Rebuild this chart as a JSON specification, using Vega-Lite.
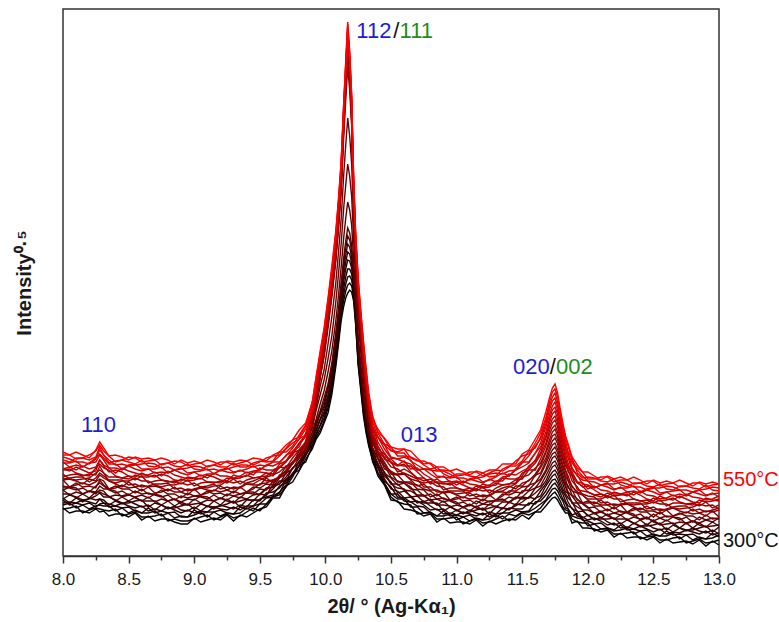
{
"$schema": "https://vega.github.io/schema/vega-lite/v6.json",
"width": 656, "height": 547,
"autosize": {"type": "none"},
"padding": {"left": 63, "top": 9, "right": 60, "bottom": 66},
"background": "white",
"config": {"view": {"stroke": "#333333", "strokeWidth": 1.5}, "font": "Liberation Sans"},
"resolve": {"axis": {"x": "independent"}, "scale": {"color": "independent"}},
"datasets": {
"xrd": [
{"x":8,"300":48,"310":47,"320":51,"330":56,"340":53,"350":58,"360":57,"370":62,"380":66,"390":66,"400":70,"410":69,"420":76,"430":76,"440":77,"450":82,"460":79,"470":86,"480":87,"490":87,"500":94,"510":93,"520":99,"530":96,"540":101,"550":104},
{"x":8.05,"300":43,"310":48,"320":53,"330":51,"340":54,"350":53,"360":61,"370":62,"380":61,"390":69,"400":68,"410":69,"420":69,"430":77,"440":78,"450":77,"460":81,"470":87,"480":85,"490":89,"500":89,"510":93,"520":97,"530":94,"540":101,"550":101},
{"x":8.1,"300":45,"310":50,"320":48,"330":53,"340":53,"350":58,"360":59,"370":58,"380":64,"390":68,"400":66,"410":73,"420":71,"430":75,"440":79,"450":76,"460":82,"470":83,"480":89,"490":86,"500":91,"510":95,"520":94,"530":98,"540":97,"550":104},
{"x":8.15,"300":45,"310":43,"320":51,"330":51,"340":56,"350":54,"360":56,"370":62,"380":62,"390":62,"400":68,"410":69,"420":73,"430":72,"440":79,"450":77,"460":80,"470":81,"480":86,"490":90,"500":89,"510":89,"520":94,"530":98,"540":98,"550":101},
{"x":8.2,"300":43,"310":46,"320":47,"330":53,"340":54,"350":58,"360":57,"370":58,"380":65,"390":65,"400":64,"410":70,"420":71,"430":77,"440":74,"450":78,"460":82,"470":80,"480":83,"490":87,"500":93,"510":93,"520":92,"530":96,"540":101,"550":98},
{"x":8.25,"300":47,"310":48,"320":50,"330":49,"340":52,"350":56,"360":60,"370":64,"380":62,"390":64,"400":70,"410":68,"420":74,"430":75,"440":78,"450":83,"460":81,"470":88,"480":85,"490":89,"500":94,"510":98,"520":97,"530":99,"540":105,"550":106},
{"x":8.28,"300":44,"310":47,"320":51,"330":52,"340":57,"350":57,"360":63,"370":64,"380":66,"390":70,"400":73,"410":76,"420":77,"430":81,"440":83,"450":86,"460":90,"470":92,"480":96,"490":96,"500":101,"510":102,"520":106,"530":109,"540":111,"550":114},
{"x":8.31,"300":45,"310":46,"320":50,"330":53,"340":53,"350":56,"360":59,"370":62,"380":65,"390":67,"400":70,"410":71,"420":75,"430":78,"440":80,"450":83,"460":83,"470":88,"480":90,"490":91,"500":96,"510":98,"520":101,"530":101,"540":105,"550":108},
{"x":8.35,"300":40,"310":45,"320":50,"330":49,"340":52,"350":51,"360":59,"370":60,"380":59,"390":67,"400":66,"410":67,"420":67,"430":75,"440":76,"450":75,"460":79,"470":86,"480":84,"490":88,"500":88,"510":92,"520":96,"530":93,"540":100,"550":100},
{"x":8.4,"300":42,"310":47,"320":45,"330":50,"340":50,"350":55,"360":56,"370":55,"380":61,"390":65,"400":63,"410":70,"420":68,"430":72,"440":76,"450":73,"460":79,"470":80,"480":86,"490":83,"500":88,"510":92,"520":91,"530":95,"540":94,"550":101},
{"x":8.45,"300":42,"310":40,"320":48,"330":48,"340":53,"350":52,"360":53,"370":59,"380":60,"390":59,"400":65,"410":67,"420":71,"430":69,"440":76,"450":75,"460":78,"470":78,"480":84,"490":88,"500":86,"510":87,"520":92,"530":96,"540":96,"550":99},
{"x":8.5,"300":39,"310":42,"320":43,"330":49,"340":50,"350":55,"360":53,"370":55,"380":62,"390":61,"400":61,"410":67,"420":68,"430":74,"440":71,"450":75,"460":80,"470":77,"480":80,"490":85,"500":90,"510":91,"520":90,"530":94,"540":99,"550":96},
{"x":8.55,"300":43,"310":44,"320":46,"330":45,"340":48,"350":52,"360":55,"370":59,"380":58,"390":59,"400":65,"410":63,"420":69,"430":69,"440":72,"450":78,"460":76,"470":81,"480":79,"490":83,"500":87,"510":92,"520":91,"530":92,"540":98,"550":99},
{"x":8.6,"300":36,"310":39,"320":43,"330":43,"340":50,"350":49,"360":56,"370":55,"380":55,"390":61,"400":62,"410":67,"420":65,"430":71,"440":69,"450":75,"460":80,"470":79,"480":83,"490":81,"500":85,"510":87,"520":92,"530":96,"540":94,"550":97},
{"x":8.65,"300":40,"310":39,"320":43,"330":48,"340":45,"350":51,"360":49,"370":55,"380":59,"390":58,"400":63,"410":62,"420":69,"430":69,"440":70,"450":75,"460":73,"470":79,"480":80,"490":81,"500":87,"510":87,"520":93,"530":90,"540":95,"550":98},
{"x":8.7,"300":35,"310":40,"320":45,"330":43,"340":47,"350":46,"360":53,"370":55,"380":54,"390":62,"400":61,"410":62,"420":63,"430":70,"440":72,"450":71,"460":75,"470":81,"480":79,"490":84,"500":83,"510":87,"520":92,"530":89,"540":96,"550":96},
{"x":8.75,"300":37,"310":42,"320":40,"330":45,"340":45,"350":51,"360":51,"370":51,"380":57,"390":60,"400":59,"410":66,"420":64,"430":68,"440":72,"450":69,"460":76,"470":76,"480":82,"490":80,"500":84,"510":89,"520":88,"530":92,"540":91,"550":98},
{"x":8.8,"300":37,"310":35,"320":43,"330":43,"340":49,"350":47,"360":48,"370":55,"380":55,"390":55,"400":61,"410":62,"420":67,"430":65,"440":73,"450":71,"460":74,"470":75,"480":80,"490":85,"500":83,"510":83,"520":89,"530":93,"540":93,"550":96},
{"x":8.85,"300":34,"310":37,"320":38,"330":44,"340":46,"350":50,"360":48,"370":50,"380":57,"390":57,"400":56,"410":62,"420":64,"430":69,"440":67,"450":71,"460":75,"470":73,"480":76,"490":81,"500":86,"510":86,"520":86,"530":90,"540":95,"550":92},
{"x":8.9,"300":32,"310":35,"320":40,"330":39,"340":43,"350":46,"360":50,"370":54,"380":52,"390":54,"400":60,"410":58,"420":64,"430":64,"440":68,"450":73,"460":72,"470":77,"480":75,"490":79,"500":83,"510":88,"520":87,"530":89,"540":94,"550":96},
{"x":8.95,"300":32,"310":35,"320":39,"330":39,"340":46,"350":45,"360":52,"370":51,"380":51,"390":57,"400":58,"410":63,"420":61,"430":67,"440":65,"450":71,"460":76,"470":75,"480":79,"490":77,"500":81,"510":83,"520":88,"530":92,"540":90,"550":93},
{"x":9,"300":38,"310":37,"320":41,"330":46,"340":43,"350":49,"360":47,"370":52,"380":57,"390":56,"400":60,"410":60,"420":67,"430":66,"440":67,"450":73,"460":70,"470":76,"480":78,"490":78,"500":84,"510":84,"520":90,"530":87,"540":92,"550":95},
{"x":9.05,"300":34,"310":39,"320":44,"330":42,"340":45,"350":45,"360":52,"370":53,"380":53,"390":60,"400":59,"410":61,"420":61,"430":68,"440":69,"450":69,"460":73,"470":78,"480":77,"490":81,"500":80,"510":85,"520":89,"530":86,"540":93,"550":93},
{"x":9.1,"300":36,"310":41,"320":39,"330":44,"340":44,"350":50,"360":50,"370":49,"380":56,"390":59,"400":57,"410":65,"420":63,"430":66,"440":70,"450":68,"460":74,"470":74,"480":81,"490":78,"500":82,"510":87,"520":86,"530":90,"540":89,"550":96},
{"x":9.15,"300":38,"310":36,"320":44,"330":44,"340":49,"350":47,"360":49,"370":55,"380":55,"390":55,"400":61,"410":62,"420":66,"430":65,"440":72,"450":70,"460":73,"470":74,"480":79,"490":83,"500":82,"510":82,"520":87,"530":91,"540":91,"550":94},
{"x":9.2,"300":36,"310":39,"320":40,"330":46,"340":47,"350":51,"360":50,"370":51,"380":58,"390":58,"400":57,"410":63,"420":64,"430":70,"440":67,"450":71,"460":75,"470":73,"480":76,"490":80,"500":86,"510":86,"520":85,"530":89,"540":94,"550":91},
{"x":9.25,"300":41,"310":42,"320":43,"330":43,"340":46,"350":49,"360":52,"370":57,"380":55,"390":56,"400":62,"410":60,"420":66,"430":66,"440":69,"450":75,"460":73,"470":78,"480":75,"490":80,"500":84,"510":88,"520":87,"530":89,"540":94,"550":95},
{"x":9.3,"300":35,"310":38,"320":42,"330":42,"340":49,"350":47,"360":55,"370":53,"380":53,"390":60,"400":60,"410":65,"420":63,"430":69,"440":67,"450":73,"460":77,"470":77,"480":81,"490":78,"500":83,"510":84,"520":89,"530":93,"540":91,"550":94},
{"x":9.35,"300":41,"310":40,"320":43,"330":49,"340":46,"350":51,"360":49,"370":55,"380":59,"390":58,"400":62,"410":62,"420":69,"430":68,"440":69,"450":75,"460":72,"470":78,"480":79,"490":80,"500":86,"510":85,"520":91,"530":89,"540":93,"550":96},
{"x":9.4,"300":39,"310":44,"320":48,"330":47,"340":50,"350":49,"360":56,"370":57,"380":57,"390":64,"400":63,"410":64,"420":64,"430":72,"440":73,"450":72,"460":76,"470":81,"480":80,"490":84,"500":83,"510":87,"520":91,"530":89,"540":95,"550":95},
{"x":9.45,"300":43,"310":48,"320":45,"330":50,"340":50,"350":56,"360":56,"370":55,"380":61,"390":64,"400":62,"410":69,"420":67,"430":71,"440":75,"450":72,"460":78,"470":78,"480":84,"490":81,"500":85,"510":90,"520":89,"530":93,"540":91,"550":98},
{"x":9.5,"300":47,"310":45,"320":52,"330":52,"340":57,"350":55,"360":56,"370":62,"380":62,"390":61,"400":67,"410":68,"420":72,"430":71,"440":78,"450":76,"460":79,"470":79,"480":84,"490":88,"500":86,"510":86,"520":91,"530":95,"540":94,"550":97},
{"x":9.55,"300":49,"310":52,"320":52,"330":58,"340":59,"350":63,"360":61,"370":61,"380":68,"390":67,"400":66,"410":72,"420":73,"430":78,"440":75,"450":79,"460":83,"470":80,"480":83,"490":86,"500":91,"510":91,"520":90,"530":94,"540":98,"550":95},
{"x":9.6,"300":58,"310":59,"320":60,"330":59,"340":61,"350":64,"360":67,"370":71,"380":69,"390":69,"400":75,"410":71,"420":76,"430":73,"440":76,"450":81,"460":80,"470":85,"480":82,"490":86,"500":90,"510":94,"520":94,"530":95,"540":100,"550":101},
{"x":9.65,"300":58,"310":61,"320":64,"330":63,"340":70,"350":68,"360":75,"370":72,"380":72,"390":78,"400":78,"410":81,"420":79,"430":80,"440":78,"450":84,"460":89,"470":88,"480":92,"490":89,"500":93,"510":94,"520":100,"530":104,"540":101,"550":104},
{"x":9.7,"300":70,"310":69,"320":71,"330":76,"340":73,"350":77,"360":75,"370":79,"380":83,"390":82,"400":86,"410":84,"420":90,"430":84,"440":85,"450":90,"460":88,"470":94,"480":95,"490":95,"500":101,"510":100,"520":107,"530":104,"540":108,"550":111},
{"x":9.75,"300":74,"310":79,"320":82,"330":80,"340":83,"350":81,"360":88,"370":88,"380":87,"390":94,"400":93,"410":92,"420":92,"430":93,"440":94,"450":93,"460":98,"470":103,"480":101,"490":105,"500":104,"510":108,"520":113,"530":110,"540":116,"550":116},
{"x":9.8,"300":85,"310":90,"320":86,"330":91,"340":90,"350":95,"360":94,"370":93,"380":98,"390":101,"400":100,"410":105,"420":102,"430":98,"440":102,"450":99,"460":106,"470":106,"480":112,"490":109,"500":113,"510":117,"520":117,"530":121,"540":119,"550":126},
{"x":9.85,"300":97,"310":94,"320":101,"330":100,"340":105,"350":102,"360":102,"370":108,"380":107,"390":106,"400":113,"410":112,"420":115,"430":105,"440":112,"450":110,"460":114,"470":114,"480":119,"490":123,"500":121,"510":121,"520":127,"530":131,"540":130,"550":133},
{"x":9.9,"300":107,"310":110,"320":111,"330":114,"340":115,"350":118,"360":119,"370":119,"380":123,"390":124,"400":128,"410":131,"420":135,"430":130,"440":130,"450":133,"460":137,"470":137,"480":139,"490":142,"500":145,"510":146,"520":148,"530":151,"540":154,"550":154},
{"x":9.93,"300":117,"310":119,"320":121,"330":122,"340":125,"350":127,"360":130,"370":133,"380":134,"390":137,"400":146,"410":149,"420":158,"430":153,"440":155,"450":159,"460":160,"470":163,"480":163,"490":167,"500":169,"510":172,"520":173,"530":176,"540":179,"550":180},
{"x":9.96,"300":123,"310":126,"320":130,"330":131,"340":136,"350":137,"360":142,"370":143,"380":145,"390":152,"400":161,"410":170,"420":179,"430":178,"440":179,"450":183,"460":186,"470":187,"480":190,"490":191,"500":194,"510":195,"520":198,"530":202,"540":202,"550":205},
{"x":9.99,"300":133,"310":135,"320":138,"330":142,"340":144,"350":148,"360":150,"370":154,"380":158,"390":165,"400":176,"410":186,"420":199,"430":201,"440":203,"450":207,"460":207,"470":210,"480":212,"490":214,"500":218,"510":219,"520":222,"530":223,"540":226,"550":228},
{"x":10.02,"300":143,"310":148,"320":152,"330":155,"340":158,"350":161,"360":167,"370":169,"380":172,"390":184,"400":197,"410":212,"420":228,"430":232,"440":233,"450":235,"460":238,"470":241,"480":242,"490":245,"500":246,"510":249,"520":252,"530":253,"540":256,"550":258},
{"x":10.05,"300":162,"310":167,"320":169,"330":174,"340":178,"350":183,"360":186,"370":189,"380":194,"390":206,"400":221,"410":240,"420":260,"430":262,"440":265,"450":266,"460":269,"470":271,"480":275,"490":275,"500":278,"510":282,"520":283,"530":285,"540":287,"550":291},
{"x":10.08,"300":190,"310":194,"320":199,"330":203,"340":207,"350":211,"360":216,"370":220,"380":224,"390":236,"400":255,"410":274,"420":296,"430":298,"440":300,"450":303,"460":305,"470":307,"480":310,"490":312,"500":314,"510":317,"520":319,"530":321,"540":324,"550":326},
{"x":10.1,"300":212,"310":216,"320":221,"330":225,"340":230,"350":234,"360":238,"370":243,"380":247,"390":261,"400":282,"410":304,"420":328,"430":330,"440":332,"450":335,"460":337,"470":339,"480":342,"490":344,"500":346,"510":349,"520":351,"530":353,"540":356,"550":358},
{"x":10.12,"300":235,"310":240,"320":245,"330":249,"340":254,"350":259,"360":264,"370":268,"380":273,"390":289,"400":312,"410":337,"420":365,"430":367,"440":369,"450":372,"460":374,"470":376,"480":379,"490":381,"500":383,"510":386,"520":388,"530":390,"540":393,"550":395},
{"x":10.14,"300":250,"310":256,"320":262,"330":268,"340":275,"350":281,"360":287,"370":293,"380":299,"390":319,"400":349,"410":382,"420":421,"430":427,"440":429,"450":432,"460":434,"470":436,"480":439,"490":441,"500":443,"510":446,"520":448,"530":450,"540":453,"550":455},
{"x":10.155,"300":258,"310":265,"320":272,"330":279,"340":287,"350":294,"360":301,"370":308,"380":315,"390":338,"400":371,"410":411,"420":456,"430":466,"440":468,"450":471,"460":473,"470":476,"480":478,"490":481,"500":483,"510":485,"520":488,"530":490,"540":493,"550":495},
{"x":10.17,"300":263,"310":271,"320":279,"330":287,"340":296,"350":304,"360":312,"370":320,"380":328,"390":354,"400":392,"410":438,"420":489,"430":505,"440":507,"450":510,"460":512,"470":515,"480":517,"490":520,"500":522,"510":524,"520":527,"530":529,"540":532,"550":534},
{"x":10.185,"300":266,"310":273,"320":280,"330":287,"340":295,"350":302,"360":309,"370":316,"380":323,"390":346,"400":380,"410":420,"420":466,"430":476,"440":478,"450":481,"460":483,"470":486,"480":488,"490":491,"500":493,"510":495,"520":498,"530":500,"540":503,"550":505},
{"x":10.2,"300":264,"310":270,"320":276,"330":282,"340":288,"350":293,"360":299,"370":305,"380":311,"390":331,"400":360,"410":392,"420":431,"430":434,"440":436,"450":439,"460":441,"470":443,"480":446,"490":448,"500":450,"510":453,"520":455,"530":457,"540":460,"550":462},
{"x":10.215,"300":255,"310":259,"320":262,"330":266,"340":270,"350":273,"360":277,"370":280,"380":284,"390":297,"400":318,"410":336,"420":355,"430":352,"440":354,"450":357,"460":359,"470":361,"480":364,"490":366,"500":368,"510":371,"520":373,"530":375,"540":378,"550":380},
{"x":10.23,"300":232,"310":235,"320":238,"330":240,"340":243,"350":246,"360":249,"370":251,"380":254,"390":263,"400":279,"410":291,"420":300,"430":298,"440":300,"450":303,"460":305,"470":307,"480":309,"490":312,"500":314,"510":316,"520":318,"530":321,"540":323,"550":325},
{"x":10.25,"300":190,"310":193,"320":196,"330":198,"340":201,"350":204,"360":207,"370":209,"380":212,"390":220,"400":233,"410":244,"420":252,"430":251,"440":253,"450":256,"460":258,"470":260,"480":262,"490":265,"500":267,"510":269,"520":271,"530":274,"540":276,"550":278},
{"x":10.27,"300":165,"310":168,"320":170,"330":173,"340":175,"350":178,"360":180,"370":183,"380":185,"390":192,"400":203,"410":212,"420":219,"430":218,"440":220,"450":223,"460":225,"470":227,"480":229,"490":232,"500":234,"510":236,"520":238,"530":241,"540":243,"550":245},
{"x":10.29,"300":140,"310":143,"320":145,"330":148,"340":150,"350":153,"360":155,"370":158,"380":160,"390":166,"400":175,"410":182,"420":189,"430":188,"440":190,"450":193,"460":195,"470":197,"480":199,"490":202,"500":204,"510":206,"520":208,"530":211,"540":213,"550":215},
{"x":10.31,"300":123,"310":126,"320":129,"330":130,"340":133,"350":134,"360":138,"370":139,"380":140,"390":147,"400":153,"410":159,"420":161,"430":162,"440":163,"450":165,"460":168,"470":171,"480":172,"490":175,"500":176,"510":179,"520":182,"530":183,"540":186,"550":188},
{"x":10.33,"300":110,"310":113,"320":113,"330":116,"340":118,"350":120,"360":121,"370":122,"380":125,"390":129,"400":133,"410":138,"420":140,"430":137,"440":140,"450":140,"460":144,"470":146,"480":149,"490":149,"500":152,"510":155,"520":157,"530":159,"540":160,"550":164},
{"x":10.36,"300":96,"310":94,"320":100,"330":100,"340":105,"350":102,"360":103,"370":108,"380":108,"390":108,"400":116,"410":116,"420":120,"430":112,"440":119,"450":117,"460":121,"470":121,"480":126,"490":130,"500":128,"510":128,"520":134,"530":138,"540":137,"550":140},
{"x":10.4,"300":80,"310":83,"320":83,"330":88,"340":89,"350":93,"360":91,"370":91,"380":98,"390":97,"400":98,"410":103,"420":104,"430":104,"440":101,"450":105,"460":110,"470":107,"480":110,"490":114,"500":119,"510":119,"520":119,"530":123,"540":127,"550":124},
{"x":10.45,"300":71,"310":72,"320":73,"330":72,"340":75,"350":77,"360":80,"370":84,"380":82,"390":83,"400":90,"410":87,"420":94,"430":90,"440":93,"450":98,"460":97,"470":102,"480":99,"490":103,"500":107,"510":111,"520":111,"530":112,"540":117,"550":118},
{"x":10.5,"300":56,"310":59,"320":62,"330":62,"340":69,"350":67,"360":74,"370":72,"380":72,"390":78,"400":79,"410":84,"420":82,"430":85,"440":83,"450":89,"460":94,"470":93,"480":97,"490":94,"500":98,"510":99,"520":105,"530":109,"540":106,"550":109},
{"x":10.55,"300":55,"310":54,"320":57,"330":62,"340":59,"350":65,"360":63,"370":68,"380":72,"390":71,"400":75,"410":74,"420":81,"430":81,"440":82,"450":87,"460":84,"470":90,"480":91,"490":91,"500":97,"510":97,"520":103,"530":100,"540":104,"550":107},
{"x":10.6,"300":47,"310":52,"320":57,"330":55,"340":58,"350":58,"360":65,"370":67,"380":66,"390":73,"400":73,"410":74,"420":74,"430":82,"440":83,"450":82,"460":87,"470":92,"480":90,"490":95,"500":94,"510":99,"520":103,"530":100,"540":107,"550":107},
{"x":10.65,"300":46,"310":51,"320":49,"330":54,"340":54,"350":59,"360":60,"370":59,"380":65,"390":69,"400":67,"410":74,"420":72,"430":76,"440":80,"450":77,"460":83,"470":84,"480":90,"490":87,"500":92,"510":96,"520":95,"530":99,"540":98,"550":105},
{"x":10.7,"300":44,"310":42,"320":49,"330":50,"340":55,"350":53,"360":54,"370":60,"380":61,"390":60,"400":66,"410":67,"420":71,"430":70,"440":77,"450":75,"460":78,"470":78,"480":84,"490":88,"500":86,"510":86,"520":91,"530":96,"540":95,"550":98},
{"x":10.75,"300":40,"310":43,"320":43,"330":49,"340":51,"350":55,"360":53,"370":54,"380":61,"390":60,"400":60,"410":66,"420":67,"430":72,"440":69,"450":73,"460":78,"470":75,"480":78,"490":82,"500":87,"510":87,"520":87,"530":91,"540":95,"550":92},
{"x":10.8,"300":42,"310":43,"320":44,"330":43,"340":46,"350":50,"360":53,"370":57,"380":55,"390":56,"400":62,"410":59,"420":65,"430":66,"440":69,"450":74,"460":72,"470":77,"480":74,"490":78,"500":82,"510":87,"520":86,"530":87,"540":92,"550":93},
{"x":10.85,"300":34,"310":37,"320":40,"330":40,"340":47,"350":46,"360":53,"370":51,"380":51,"390":57,"400":57,"410":62,"420":60,"430":66,"440":64,"450":70,"460":74,"470":73,"480":77,"490":74,"500":78,"510":80,"520":85,"530":89,"540":86,"550":89},
{"x":10.9,"300":38,"310":37,"320":40,"330":45,"340":42,"350":47,"360":45,"370":51,"380":55,"390":54,"400":58,"410":57,"420":64,"430":63,"440":64,"450":69,"460":66,"470":72,"480":73,"490":74,"500":80,"510":79,"520":85,"530":82,"540":86,"550":89},
{"x":10.95,"300":33,"310":38,"320":42,"330":40,"340":43,"350":42,"360":49,"370":50,"380":49,"390":56,"400":55,"410":56,"420":56,"430":64,"440":65,"450":64,"460":68,"470":73,"480":71,"490":75,"500":74,"510":78,"520":82,"530":79,"540":85,"550":85},
{"x":11,"300":34,"310":39,"320":36,"330":41,"340":41,"350":46,"360":46,"370":45,"380":51,"390":54,"400":52,"410":59,"420":57,"430":61,"440":65,"450":62,"460":68,"470":68,"480":74,"490":71,"500":75,"510":79,"520":78,"530":82,"540":80,"550":87},
{"x":11.05,"300":34,"310":32,"320":39,"330":39,"340":44,"350":42,"360":43,"370":49,"380":49,"390":48,"400":54,"410":55,"420":59,"430":58,"440":65,"450":63,"460":66,"470":66,"480":71,"490":75,"500":73,"510":73,"520":78,"530":82,"540":81,"550":84},
{"x":11.1,"300":32,"310":35,"320":35,"330":41,"340":42,"350":46,"360":44,"370":45,"380":52,"390":51,"400":50,"410":56,"420":57,"430":63,"440":60,"450":64,"460":68,"470":65,"480":68,"490":72,"500":77,"510":77,"520":76,"530":80,"540":84,"550":81},
{"x":11.15,"300":36,"310":37,"320":38,"330":37,"340":40,"350":43,"360":46,"370":50,"380":48,"390":49,"400":55,"410":52,"420":58,"430":59,"440":62,"450":67,"460":65,"470":70,"480":67,"490":71,"500":75,"510":79,"520":78,"530":79,"540":84,"550":85},
{"x":11.2,"300":30,"310":33,"320":36,"330":36,"340":43,"350":41,"360":48,"370":46,"380":46,"390":52,"400":52,"410":57,"420":55,"430":61,"440":59,"450":65,"460":69,"470":68,"480":72,"490":69,"500":73,"510":74,"520":79,"530":83,"540":80,"550":83},
{"x":11.25,"300":35,"310":34,"320":37,"330":42,"340":39,"350":44,"360":42,"370":48,"380":52,"390":51,"400":55,"410":54,"420":61,"430":60,"440":61,"450":66,"460":63,"470":69,"480":70,"490":71,"500":77,"510":76,"520":82,"530":79,"540":83,"550":86},
{"x":11.3,"300":32,"310":37,"320":41,"330":39,"340":42,"350":42,"360":49,"370":50,"380":49,"390":56,"400":55,"410":56,"420":56,"430":64,"440":65,"450":64,"460":68,"470":73,"480":71,"490":75,"500":74,"510":79,"520":83,"530":80,"540":86,"550":86},
{"x":11.35,"300":35,"310":40,"320":37,"330":43,"340":43,"350":48,"360":48,"370":47,"380":54,"390":57,"400":55,"410":62,"420":60,"430":64,"440":68,"450":65,"460":71,"470":71,"480":78,"490":75,"500":79,"510":83,"520":82,"530":87,"540":85,"550":92},
{"x":11.4,"300":37,"310":35,"320":42,"330":43,"340":48,"350":46,"360":47,"370":54,"380":54,"390":53,"400":59,"410":61,"420":65,"430":63,"440":70,"450":69,"460":72,"470":72,"480":77,"490":82,"500":80,"510":80,"520":85,"530":90,"540":89,"550":92},
{"x":11.45,"300":36,"310":39,"320":40,"330":46,"340":47,"350":52,"360":50,"370":51,"380":59,"390":58,"400":57,"410":64,"420":65,"430":70,"440":67,"450":72,"460":76,"470":73,"480":77,"490":81,"500":86,"510":87,"520":86,"530":90,"540":95,"550":92},
{"x":11.5,"300":41,"310":43,"320":44,"330":44,"340":47,"350":51,"360":54,"370":59,"380":57,"390":59,"400":65,"410":63,"420":69,"430":70,"440":73,"450":79,"460":77,"470":83,"480":80,"490":85,"500":89,"510":94,"520":93,"530":95,"540":100,"550":102},
{"x":11.55,"300":37,"310":41,"320":44,"330":45,"340":53,"350":51,"360":59,"370":58,"380":58,"390":65,"400":66,"410":71,"420":70,"430":76,"440":75,"450":81,"460":86,"470":86,"480":90,"490":88,"500":93,"510":94,"520":100,"530":105,"540":102,"550":106},
{"x":11.6,"300":44,"310":44,"320":48,"330":54,"340":52,"350":58,"360":57,"370":63,"380":68,"390":68,"400":73,"410":73,"420":81,"430":80,"440":82,"450":88,"460":86,"470":93,"480":95,"490":96,"500":103,"510":103,"520":110,"530":108,"540":113,"550":117},
{"x":11.64,"300":44,"310":48,"320":52,"330":55,"340":58,"350":60,"360":65,"370":68,"380":70,"390":75,"400":77,"410":81,"420":83,"430":88,"440":90,"450":93,"460":97,"470":101,"480":103,"490":107,"500":109,"510":113,"520":117,"530":119,"540":123,"550":126},
{"x":11.68,"300":50,"310":55,"320":56,"330":61,"340":65,"350":70,"360":72,"370":75,"380":80,"390":84,"400":86,"410":92,"420":95,"430":98,"440":103,"450":105,"460":110,"470":113,"480":118,"490":120,"500":124,"510":129,"520":132,"530":136,"540":138,"550":144},
{"x":11.71,"300":55,"310":59,"320":63,"330":67,"340":72,"350":76,"360":80,"370":84,"380":88,"390":92,"400":97,"410":101,"420":105,"430":109,"440":113,"450":117,"460":122,"470":126,"480":130,"490":134,"500":138,"510":142,"520":147,"530":151,"540":155,"550":159},
{"x":11.73,"300":58,"310":62,"320":67,"330":71,"340":76,"350":80,"360":84,"370":89,"380":93,"390":98,"400":102,"410":106,"420":111,"430":115,"440":120,"450":124,"460":128,"470":133,"480":137,"490":142,"500":146,"510":150,"520":155,"530":159,"540":164,"550":168},
{"x":11.75,"300":59,"310":64,"320":68,"330":73,"340":77,"350":82,"360":86,"370":91,"380":95,"390":100,"400":104,"410":109,"420":113,"430":118,"440":122,"450":127,"460":131,"470":136,"480":140,"490":145,"500":149,"510":154,"520":158,"530":163,"540":167,"550":172},
{"x":11.77,"300":56,"310":60,"320":65,"330":69,"340":73,"350":77,"360":82,"370":86,"380":90,"390":95,"400":99,"410":103,"420":107,"430":112,"440":116,"450":120,"460":124,"470":129,"480":133,"490":137,"500":142,"510":146,"520":150,"530":154,"540":159,"550":163},
{"x":11.79,"300":51,"310":55,"320":59,"330":63,"340":66,"350":70,"360":74,"370":78,"380":82,"390":86,"400":89,"410":93,"420":97,"430":101,"440":105,"450":109,"460":112,"470":116,"480":120,"490":124,"500":128,"510":132,"520":135,"530":139,"540":143,"550":147},
{"x":11.81,"300":47,"310":49,"320":55,"330":57,"340":62,"350":64,"360":67,"370":72,"380":75,"390":77,"400":81,"410":85,"420":89,"430":91,"440":96,"450":99,"460":102,"470":104,"480":109,"490":113,"500":116,"510":118,"520":123,"530":127,"540":130,"550":133},
{"x":11.83,"300":43,"310":46,"320":48,"330":53,"340":55,"350":60,"360":62,"370":64,"380":69,"390":71,"400":73,"410":77,"420":80,"430":85,"440":86,"450":90,"460":94,"470":95,"480":98,"490":102,"500":106,"510":109,"520":111,"530":115,"540":119,"550":120},
{"x":11.85,"300":43,"310":45,"320":47,"330":47,"340":50,"350":54,"360":58,"370":63,"380":62,"390":64,"400":70,"410":68,"420":75,"430":76,"440":80,"450":86,"460":84,"470":90,"480":88,"490":93,"500":98,"510":103,"520":102,"530":104,"540":110,"550":112},
{"x":11.88,"300":33,"310":37,"320":40,"330":41,"340":48,"350":47,"360":54,"370":53,"380":53,"390":60,"400":61,"410":66,"420":65,"430":70,"440":69,"450":75,"460":80,"470":80,"480":84,"490":82,"500":86,"510":88,"520":93,"530":98,"540":95,"550":99},
{"x":11.92,"300":35,"310":34,"320":38,"330":43,"340":40,"350":45,"360":44,"370":49,"380":53,"390":53,"400":57,"410":56,"420":63,"430":63,"440":64,"450":69,"460":66,"470":73,"480":74,"490":74,"500":81,"510":80,"520":86,"530":83,"540":88,"550":91},
{"x":11.96,"300":28,"310":33,"320":37,"330":36,"340":39,"350":38,"360":45,"370":46,"380":46,"390":53,"400":52,"410":53,"420":53,"430":61,"440":62,"450":61,"460":65,"470":70,"480":69,"490":73,"500":72,"510":76,"520":80,"530":78,"540":84,"550":84},
{"x":12,"300":28,"310":33,"320":30,"330":35,"340":36,"350":41,"360":41,"370":40,"380":46,"390":49,"400":48,"410":55,"420":53,"430":56,"440":60,"450":57,"460":64,"470":64,"480":70,"490":67,"500":71,"510":75,"520":75,"530":79,"540":77,"550":84},
{"x":12.05,"300":27,"310":25,"320":32,"330":32,"340":38,"350":36,"360":37,"370":43,"380":43,"390":42,"400":49,"410":50,"420":54,"430":52,"440":59,"450":57,"460":61,"470":61,"480":66,"490":70,"500":68,"510":68,"520":74,"530":78,"540":77,"550":80},
{"x":12.1,"300":24,"310":27,"320":27,"330":33,"340":35,"350":39,"360":37,"370":38,"380":45,"390":44,"400":44,"410":50,"420":51,"430":56,"440":53,"450":57,"460":62,"470":59,"480":62,"490":66,"500":71,"510":71,"520":71,"530":75,"540":79,"550":76},
{"x":12.15,"300":26,"310":27,"320":28,"330":28,"340":31,"350":34,"360":37,"370":42,"380":40,"390":41,"400":47,"410":45,"420":51,"430":51,"440":54,"450":60,"460":58,"470":63,"480":60,"490":65,"500":69,"510":73,"520":72,"530":74,"540":79,"550":80},
{"x":12.2,"300":19,"310":22,"320":25,"330":26,"340":33,"350":31,"360":38,"370":37,"380":37,"390":43,"400":43,"410":49,"420":47,"430":52,"440":50,"450":57,"460":61,"470":60,"480":64,"490":62,"500":66,"510":67,"520":72,"530":77,"540":74,"550":77},
{"x":12.25,"300":23,"310":22,"320":26,"330":31,"340":28,"350":33,"360":32,"370":37,"380":41,"390":41,"400":45,"410":44,"420":51,"430":51,"440":52,"450":57,"460":54,"470":61,"480":62,"490":62,"500":69,"510":68,"520":74,"530":71,"540":76,"550":79},
{"x":12.3,"300":18,"310":23,"320":28,"330":26,"340":29,"350":28,"360":36,"370":37,"380":36,"390":44,"400":43,"410":44,"420":44,"430":52,"440":53,"450":52,"460":56,"470":62,"480":60,"490":64,"500":64,"510":68,"520":72,"530":69,"540":76,"550":76},
{"x":12.35,"300":19,"310":24,"320":22,"330":27,"340":27,"350":33,"360":33,"370":32,"380":39,"390":42,"400":40,"410":48,"420":46,"430":49,"440":53,"450":51,"460":57,"470":57,"480":64,"490":61,"500":65,"510":70,"520":69,"530":73,"540":72,"550":79},
{"x":12.4,"300":19,"310":17,"320":25,"330":25,"340":30,"350":29,"360":30,"370":36,"380":37,"390":36,"400":42,"410":44,"420":48,"430":46,"440":53,"450":52,"460":55,"470":55,"480":61,"490":65,"500":63,"510":64,"520":69,"530":73,"540":73,"550":76},
{"x":12.45,"300":16,"310":19,"320":20,"330":26,"340":27,"350":32,"360":30,"370":31,"380":39,"390":38,"400":37,"410":44,"420":45,"430":50,"440":47,"450":52,"460":56,"470":53,"480":57,"490":61,"500":66,"510":67,"520":66,"530":70,"540":75,"550":72},
{"x":12.5,"300":19,"310":20,"320":22,"330":21,"340":24,"350":28,"360":31,"370":36,"380":34,"390":35,"400":42,"410":39,"420":45,"430":46,"440":49,"450":54,"460":53,"470":58,"480":55,"490":60,"500":64,"510":69,"520":68,"530":69,"540":75,"550":76},
{"x":12.55,"300":13,"310":16,"320":20,"330":20,"340":27,"350":26,"360":33,"370":31,"380":32,"390":38,"400":38,"410":44,"420":42,"430":47,"440":45,"450":52,"460":56,"470":55,"480":60,"490":57,"500":61,"510":63,"520":68,"530":72,"540":70,"550":73},
{"x":12.6,"300":17,"310":16,"320":20,"330":25,"340":22,"350":28,"360":26,"370":32,"380":36,"390":35,"400":40,"410":39,"420":46,"430":46,"440":47,"450":52,"460":50,"470":56,"480":57,"490":58,"500":64,"510":64,"520":70,"530":67,"540":72,"550":75},
{"x":12.65,"300":13,"310":18,"320":23,"330":21,"340":24,"350":24,"360":31,"370":33,"380":32,"390":39,"400":39,"410":40,"420":40,"430":48,"440":49,"450":48,"460":53,"470":58,"480":56,"490":61,"500":60,"510":65,"520":69,"530":66,"540":73,"550":73},
{"x":12.7,"300":14,"310":19,"320":17,"330":22,"340":23,"350":28,"360":28,"370":28,"380":34,"390":38,"400":36,"410":43,"420":42,"430":45,"440":50,"450":47,"460":53,"470":54,"480":60,"490":58,"500":62,"510":66,"520":66,"530":70,"540":69,"550":76},
{"x":12.75,"300":15,"310":13,"320":21,"330":21,"340":26,"350":25,"360":26,"370":33,"380":33,"390":32,"400":39,"410":40,"420":44,"430":43,"440":50,"450":48,"460":52,"470":52,"480":57,"490":62,"500":60,"510":61,"520":66,"530":70,"540":70,"550":73},
{"x":12.8,"300":12,"310":15,"320":16,"330":22,"340":24,"350":28,"360":26,"370":28,"380":35,"390":35,"400":34,"410":40,"420":42,"430":47,"440":45,"450":49,"460":53,"470":51,"480":54,"490":59,"500":64,"510":64,"520":64,"530":68,"540":73,"550":70},
{"x":12.85,"300":16,"310":17,"320":19,"330":18,"340":22,"350":25,"360":28,"370":33,"380":31,"390":33,"400":39,"410":36,"420":43,"430":43,"440":47,"450":52,"460":50,"470":56,"480":53,"490":58,"500":62,"510":66,"520":66,"530":67,"540":73,"550":74},
{"x":12.9,"300":10,"310":13,"320":17,"330":17,"340":25,"350":23,"360":30,"370":29,"380":29,"390":36,"400":36,"410":41,"420":40,"430":45,"440":44,"450":50,"460":54,"470":54,"480":58,"490":56,"500":60,"510":61,"520":67,"530":71,"540":69,"550":72},
{"x":12.95,"300":15,"310":14,"320":18,"330":23,"340":21,"350":26,"360":24,"370":30,"380":34,"390":34,"400":38,"410":37,"420":45,"430":44,"440":46,"450":51,"460":48,"470":55,"480":56,"490":57,"500":63,"510":62,"520":69,"530":66,"540":71,"550":74},
{"x":13,"300":11,"310":16,"320":21,"330":19,"340":23,"350":22,"360":29,"370":31,"380":30,"390":38,"400":37,"410":38,"420":39,"430":46,"440":48,"450":47,"460":51,"470":57,"480":55,"490":60,"500":59,"510":63,"520":68,"530":65,"540":72,"550":72}
],
"hkl": [
{"x":8.137,"y":124,"label":"110","phase":"blue set"},
{"x":10.574,"y":114,"label":"013","phase":"blue set"},
{"x":10.236,"y":518,"label":"112","phase":"blue set"},
{"x":10.518,"y":518,"label":"/","phase":"separator"},
{"x":10.565,"y":518,"label":"111","phase":"green set"},
{"x":11.43,"y":182,"label":"020","phase":"blue set"},
{"x":11.71,"y":182,"label":"/","phase":"separator"},
{"x":11.757,"y":182,"label":"002","phase":"green set"}
],
"temps": [
{"x":13,"y":76,"T":"550","label":"550°C"},
{"x":13,"y":15,"T":"300","label":"300°C"}
]
},
"layer": [
{
"data": {"name": "xrd"},
"transform": [{"fold": ["300","310","320","330","340","350","360","370","380","390","400","410","420","430","440","450","460","470","480","490","500","510","520","530","540","550"], "as": ["T", "y"]}],
"mark": {"type": "line", "strokeWidth": 1.4},
"encoding": {
"x": {"field": "x", "type": "quantitative", "scale": {"domain": [8, 13], "nice": false, "zero": false},
 "axis": {"orient": "bottom", "values": [8, 8.5, 9, 9.5, 10, 10.5, 11, 11.5, 12, 12.5, 13], "format": ".1f", "labelFlush": false, "labelOverlap": false, "labelFontSize": 17, "labelColor": "#1a1a1a", "labelPadding": 8, "tickSize": 7, "tickWidth": 1.5, "tickColor": "#333333", "domainColor": "#333333", "domainWidth": 1.5, "grid": false, "title": "2θ/ ° (Ag-Kα₁)", "titleFontSize": 20, "titleFontWeight": "bold", "titleColor": "#1a1a1a", "titlePadding": 9}},
"y": {"field": "y", "type": "quantitative", "scale": {"domain": [0, 547], "nice": false, "zero": false},
 "axis": {"title": "Intensity⁰·⁵", "ticks": false, "labels": false, "domain": false, "grid": false, "minExtent": 0, "titleFontSize": 20, "titleFontWeight": "bold", "titleColor": "#1a1a1a", "titlePadding": 29}},
"color": {"field": "T", "type": "nominal", "legend": null, "scale": {"domain": ["300","310","320","330","340","350","360","370","380","390","400","410","420","430","440","450","460","470","480","490","500","510","520","530","540","550"], "range": ["#000000","#0a0000","#140000","#1f0000","#290000","#330000","#3d0000","#470000","#520000","#5c0000","#660000","#700000","#7a0000","#850000","#8f0000","#990000","#a30000","#ad0000","#b80000","#c20000","#cc0000","#d60000","#e00000","#eb0000","#f50000","#ff0000"]}}
}
},
{
"data": {"name": "hkl"},
"mark": {"type": "text", "align": "left", "baseline": "alphabetic", "fontSize": 22},
"encoding": {
"x": {"field": "x", "type": "quantitative", "scale": {"domain": [8, 13], "nice": false, "zero": false},
 "axis": {"orient": "bottom", "values": [8.25, 8.75, 9.25, 9.75, 10.25, 10.75, 11.25, 11.75, 12.25, 12.75], "labels": false, "domain": false, "grid": false, "tickSize": 4, "tickWidth": 1.5, "tickColor": "#333333", "title": null}},
"y": {"field": "y", "type": "quantitative", "scale": {"domain": [0, 547], "nice": false, "zero": false},
 "axis": {"title": "Intensity⁰·⁵", "ticks": false, "labels": false, "domain": false, "grid": false, "minExtent": 0, "titleFontSize": 20, "titleFontWeight": "bold", "titleColor": "#1a1a1a", "titlePadding": 29}},
"text": {"field": "label", "type": "nominal"},
"color": {"field": "phase", "type": "nominal", "legend": null, "scale": {"domain": ["blue set", "green set", "separator"], "range": ["#1c1cd8", "#1f8a1f", "#111111"]}}
}
},
{
"data": {"name": "temps"},
"mark": {"type": "text", "align": "left", "baseline": "middle", "fontSize": 20, "dx": 4},
"encoding": {
"x": {"field": "x", "type": "quantitative", "scale": {"domain": [8, 13], "nice": false, "zero": false}, "axis": null},
"y": {"field": "y", "type": "quantitative", "scale": {"domain": [0, 547], "nice": false, "zero": false},
 "axis": {"title": "Intensity⁰·⁵", "ticks": false, "labels": false, "domain": false, "grid": false, "minExtent": 0, "titleFontSize": 20, "titleFontWeight": "bold", "titleColor": "#1a1a1a", "titlePadding": 29}},
"text": {"field": "label", "type": "nominal"},
"color": {"field": "T", "type": "nominal", "legend": null, "scale": {"domain": ["300", "550"], "range": ["#111111", "#ff0000"]}}
}
}
]
}
